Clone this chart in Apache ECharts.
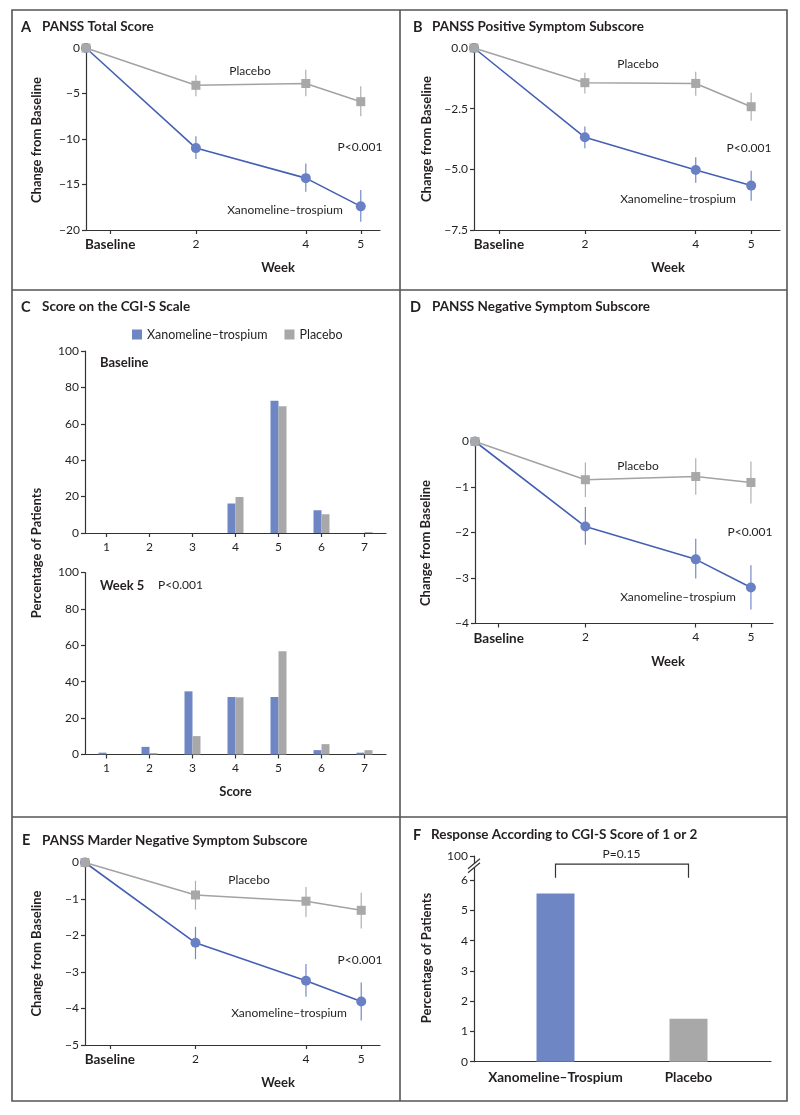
<!DOCTYPE html>
<html><head><meta charset="utf-8">
<script src="https://cdn.jsdelivr.net/npm/echarts@6/dist/echarts.min.js"></script>
<style>html,body{margin:0;padding:0;background:#fff}#c{width:800px;height:1115px}</style>
</head><body><div id="c"></div>
<script>
// ---------- data ----------
const weeks = [0, 2, 4, 5];
const weekTickLabels = ['Baseline', '2', '4', '5'];

// A: PANSS total
const aPboMean = [0, -4.1, -3.9, -5.9];
const aPboLo   = [0, -5.3, -5.3, -7.5];
const aPboHi   = [0, -3.0, -2.4, -4.2];
const aXtMean  = [0, -11.0, -14.3, -17.4];
const aXtLo    = [0, -12.2, -15.8, -19.1];
const aXtHi    = [0, -9.7, -12.7, -15.6];
// B: positive subscore
const bPboMean = [0, -1.43, -1.46, -2.42];
const bPboLo   = [0, -1.87, -1.97, -3.0];
const bPboHi   = [0, -1.02, -0.98, -1.84];
const bXtMean  = [0, -3.68, -5.03, -5.67];
const bXtLo    = [0, -4.13, -5.55, -6.29];
const bXtHi    = [0, -3.24, -4.5, -5.06];
// D: negative subscore
const dPboMean = [0, -0.84, -0.77, -0.90];
const dPboLo   = [0, -1.22, -1.17, -1.36];
const dPboHi   = [0, -0.46, -0.37, -0.44];
const dXtMean  = [0, -1.87, -2.59, -3.21];
const dXtLo    = [0, -2.27, -3.01, -3.69];
const dXtHi    = [0, -1.44, -2.14, -2.72];
// E: Marder negative
const ePboMean = [0, -0.89, -1.06, -1.31];
const ePboLo   = [0, -1.29, -1.49, -1.81];
const ePboHi   = [0, -0.50, -0.67, -0.83];
const eXtMean  = [0, -2.20, -3.24, -3.81];
const eXtLo    = [0, -2.65, -3.68, -4.33];
const eXtHi    = [0, -1.76, -2.78, -3.29];
// C: CGI-S distribution
const scoreCats = ['1', '2', '3', '4', '5', '6', '7'];
const cgiBaseXt  = [0, 0, 0, 16.2, 72.6, 12.5, 0];
const cgiBasePbo = [0, 0, 0, 19.8, 69.7, 10.3, 0.5];
const cgiW5Xt    = [1.0, 4.2, 34.7, 31.6, 31.6, 2.4, 1.0];
const cgiW5Pbo   = [0, 0.8, 10.1, 31.4, 56.7, 5.7, 2.4];
// F: response
const respCats = ['Xanomeline\u2013Trospium', 'Placebo'];
const respVals = [5.56, 1.42];
const respTicks = [0, 1, 2, 3, 4, 5, 6];

// ---------- style ----------
const FONT = 'Lato';
const TXT = '#231f20';
const AX = '#333';
const BLUE_LINE = '#4560b3', BLUE_MK = '#6a80c4', BLUE_ERR = '#7489c9', BLUE_BAR = '#6f86c4';
const GRAY_LINE = '#a3a3a3', GRAY_MK = '#a8a8a8', GRAY_ERR = '#b0b0b0', GRAY_BAR = '#a8a8a8';
const XT = 'Xanomeline\u2013trospium';
const minus = s => String(s).replace('-', '\u2212');

const chart = echarts.init(document.getElementById('c'), null, {renderer: 'canvas'});

const grids = [
  {left: 86, top: 48, width: 294, height: 182},      // 0 A
  {left: 474, top: 48, width: 306, height: 182},     // 1 B
  {left: 85, top: 351, width: 301, height: 182},     // 2 C top
  {left: 85, top: 572.5, width: 301, height: 182},   // 3 C bottom
  {left: 475, top: 441.5, width: 298, height: 182},  // 4 D
  {left: 85, top: 862.5, width: 295, height: 182.5}, // 5 E
  {left: 489, top: 856, width: 266, height: 205.7},  // 6 F inner
  {left: 474, top: 856, width: 297, height: 205.7}   // 7 F outer
];

const axLine = {show: true, onZero: false, lineStyle: {color: AX, width: 1.2}};
const axTick = {show: true, length: 4, lineStyle: {color: AX, width: 1.2}};
const lbl = {color: TXT, fontFamily: FONT, fontSize: 12};

function weekX(gi, max, baseTick) {
  const vals = [baseTick, 2, 4, 5];
  return {
    type: 'value', gridIndex: gi, min: 0, max: max,
    axisLine: axLine,
    axisTick: Object.assign({customValues: vals}, axTick),
    axisLabel: Object.assign({}, lbl, {
      customValues: vals, margin: 8,
      formatter: v => { const i = vals.indexOf(v); const t = weekTickLabels[i]; return i === 0 ? '{b|' + t + '}' : t; },
      rich: {b: {fontWeight: 'bold', fontFamily: FONT, fontSize: 13.5, color: TXT}}
    }),
    splitLine: {show: false}
  };
}
function chgY(gi, min, interval, dec) {
  return {
    type: 'value', gridIndex: gi, min: min, max: 0, interval: interval,
    axisLine: axLine, axisTick: axTick,
    axisLabel: Object.assign({}, lbl, {margin: 6, formatter: v => minus(dec ? v.toFixed(dec) : v)}),
    splitLine: {show: false}
  };
}

const xAxes = [
  weekX(0, 5.35, 0.44),
  weekX(1, 5.52, 0.45),
  {type: 'category', gridIndex: 2, data: scoreCats, axisLine: axLine, axisTick: Object.assign({alignWithLabel: true}, axTick), axisLabel: Object.assign({}, lbl, {margin: 8})},
  {type: 'category', gridIndex: 3, data: scoreCats, axisLine: axLine, axisTick: Object.assign({alignWithLabel: true}, axTick), axisLabel: Object.assign({}, lbl, {margin: 8}),
    name: 'Score', nameLocation: 'middle', nameGap: 31, nameTextStyle: {fontFamily: FONT, fontSize: 13, fontWeight: 'bold', color: TXT}},
  weekX(4, 5.40, 0.43),
  weekX(5, 5.34, 0.45),
  {type: 'category', gridIndex: 6, data: respCats, axisLine: {show: false}, axisTick: {show: false},
    axisLabel: Object.assign({}, lbl, {margin: 9, fontWeight: 'bold', fontSize: 13.5, interval: 0, hideOverlap: false})},
  {type: 'value', gridIndex: 7, min: 0, max: 1, axisLine: axLine, axisTick: {show: false}, axisLabel: {show: false}, splitLine: {show: false}}
];
const pctY = gi => ({type: 'value', gridIndex: gi, min: 0, max: 100, interval: 20, axisLine: axLine, axisTick: axTick,
  axisLabel: Object.assign({}, lbl, {margin: 6}), splitLine: {show: false}});
const yAxes = [
  chgY(0, -20, 5, 0),
  chgY(1, -7.5, 2.5, 1),
  pctY(2),
  pctY(3),
  chgY(4, -4, 1, 0),
  chgY(5, -5, 1, 0),
  {type: 'value', gridIndex: 6, min: 0, max: 6.8, offset: 15, axisLine: axLine,
    axisTick: Object.assign({customValues: respTicks.concat([6.8])}, axTick),
    axisLabel: Object.assign({}, lbl, {margin: 6, customValues: respTicks.concat([6.8]), formatter: v => v > 6.5 ? '100' : String(v)}),
    splitLine: {show: false}},
  {type: 'value', gridIndex: 7, min: 0, max: 1, show: false}
];

function errSeries(ai, lo, hi, color, z) {
  return {
    type: 'custom', xAxisIndex: ai, yAxisIndex: ai, z: z, silent: true,
    data: weeks.map((w, i) => [w, lo[i], hi[i]]).filter((d, i) => i > 0),
    renderItem: (params, api) => {
      const a = api.coord([api.value(0), api.value(1)]);
      const b = api.coord([api.value(0), api.value(2)]);
      return {type: 'line', shape: {x1: a[0], y1: a[1], x2: b[0], y2: b[1]}, style: {stroke: color, lineWidth: 1.2}};
    }
  };
}
function lineSeries(ai, name, vals, isPbo) {
  return {
    type: 'line', name: name, xAxisIndex: ai, yAxisIndex: ai, z: isPbo ? 4 : 3,
    data: weeks.map((w, i) => [w, vals[i]]),
    symbol: isPbo ? 'rect' : 'circle', symbolSize: isPbo ? 9 : 10,
    showSymbol: true,
    lineStyle: {color: isPbo ? GRAY_LINE : BLUE_LINE, width: 1.6},
    itemStyle: {color: isPbo ? GRAY_MK : BLUE_MK, borderWidth: 0},
    emphasis: {disabled: true}
  };
}
function panel(ai, pm, pl, ph, xm, xl, xh) {
  return [
    errSeries(ai, xl, xh, BLUE_ERR, 2),
    errSeries(ai, pl, ph, GRAY_ERR, 2),
    lineSeries(ai, XT + ' ' + ai, xm, false),
    lineSeries(ai, 'Placebo ' + ai, pm, true)
  ];
}
function barPair(ai, xt, pbo) {
  return [
    {type: 'bar', name: XT, xAxisIndex: ai, yAxisIndex: ai, data: xt, barWidth: 8, barGap: '0%', itemStyle: {color: BLUE_BAR}},
    {type: 'bar', name: 'Placebo', xAxisIndex: ai, yAxisIndex: ai, data: pbo, barWidth: 8, barGap: '0%', itemStyle: {color: GRAY_BAR}}
  ];
}

const series = [].concat(
  panel(0, aPboMean, aPboLo, aPboHi, aXtMean, aXtLo, aXtHi),
  panel(1, bPboMean, bPboLo, bPboHi, bXtMean, bXtLo, bXtHi),
  barPair(2, cgiBaseXt, cgiBasePbo),
  barPair(3, cgiW5Xt, cgiW5Pbo),
  panel(4, dPboMean, dPboLo, dPboHi, dXtMean, dXtLo, dXtHi),
  panel(5, ePboMean, ePboLo, ePboHi, eXtMean, eXtLo, eXtHi),
  [{type: 'bar', xAxisIndex: 6, yAxisIndex: 6, barWidth: 38,
    data: respVals.map((v, i) => ({value: v, itemStyle: {color: i === 0 ? BLUE_BAR : GRAY_BAR}}))}]
);

// ---------- text / frame graphics ----------
function T(x, y, text, o) {
  o = o || {};
  return {type: 'text', x: x, y: y, rotation: o.rot || 0, z: 50, silent: true,
    style: {text: text, fill: TXT, font: (o.bold ? 'bold ' : '') + (o.size || 12) + 'px ' + FONT,
      align: o.align || 'center', verticalAlign: 'middle'}};
}
const R = Math.PI / 2;
const frameStyle = {stroke: '#555', lineWidth: 1.6};
const TS = 13.5, LS = 14.5;
const g = [
  {type: 'rect', shape: {x: 12, y: 10, width: 775, height: 1091}, style: {fill: null, stroke: '#555', lineWidth: 1.6}, z: 40, silent: true},
  {type: 'line', shape: {x1: 400, y1: 10, x2: 400, y2: 1101}, style: frameStyle, z: 40, silent: true},
  {type: 'line', shape: {x1: 12, y1: 290, x2: 787, y2: 290}, style: frameStyle, z: 40, silent: true},
  {type: 'line', shape: {x1: 12, y1: 817, x2: 787, y2: 817}, style: frameStyle, z: 40, silent: true},
  // titles
  T(21, 27, 'A', {bold: true, size: LS, align: 'left'}), T(42, 27, 'PANSS Total Score', {bold: true, size: TS, align: 'left'}),
  T(413, 27, 'B', {bold: true, size: LS, align: 'left'}), T(432, 27, 'PANSS Positive Symptom Subscore', {bold: true, size: TS, align: 'left'}),
  T(21, 307, 'C', {bold: true, size: LS, align: 'left'}), T(42, 307, 'Score on the CGI-S Scale', {bold: true, size: TS, align: 'left'}),
  T(410, 307, 'D', {bold: true, size: LS, align: 'left'}), T(432, 307, 'PANSS Negative Symptom Subscore', {bold: true, size: TS, align: 'left'}),
  T(22, 840.5, 'E', {bold: true, size: LS, align: 'left'}), T(42, 840.5, 'PANSS Marder Negative Symptom Subscore', {bold: true, size: TS, align: 'left'}),
  T(413, 835, 'F', {bold: true, size: LS, align: 'left'}), T(431, 835, 'Response According to CGI-S Score of 1 or 2', {bold: true, size: TS, align: 'left'}),
  // y-axis names
  T(37, 140, 'Change from Baseline', {bold: true, size: 13, rot: R}),
  T(427, 139, 'Change from Baseline', {bold: true, size: 13, rot: R}),
  T(37, 553, 'Percentage of Patients', {bold: true, size: 13, rot: R}),
  T(426, 543, 'Change from Baseline', {bold: true, size: 13, rot: R}),
  T(37, 953.5, 'Change from Baseline', {bold: true, size: 13, rot: R}),
  T(427, 958, 'Percentage of Patients', {bold: true, size: 13, rot: R}),
  // x names "Week"
  T(278, 268, 'Week', {bold: true, size: 13}),
  T(668, 268, 'Week', {bold: true, size: 13}),
  T(668, 662, 'Week', {bold: true, size: 13}),
  T(278, 1083, 'Week', {bold: true, size: 13}),
  // annotations A
  T(250, 71, 'Placebo'), T(360, 147, 'P<0.001'), T(285, 210, XT),
  // B
  T(638, 64, 'Placebo'), T(749, 148, 'P<0.001'), T(678, 199, XT),
  // D
  T(638, 466, 'Placebo'), T(750, 532, 'P<0.001'), T(678, 597, XT),
  // E
  T(249, 880, 'Placebo'), T(360, 960, 'P<0.001'), T(289, 1013, XT),
  // C
  T(100, 363, 'Baseline', {bold: true, size: 13, align: 'left'}),
  T(100, 585.5, 'Week 5', {bold: true, size: 13, align: 'left'}),
  T(158, 585.5, 'P<0.001', {align: 'left'}),
  // F
  T(621.5, 854, 'P=0.15')
];

chart.setOption({
  animation: false,
  textStyle: {fontFamily: FONT},
  legend: {left: 127, top: 323, itemWidth: 10, itemHeight: 10, itemGap: 17, icon: 'rect',
    textStyle: {fontFamily: FONT, fontSize: 12.5, color: TXT},
    data: [{name: XT, itemStyle: {color: BLUE_BAR}}, {name: 'Placebo', itemStyle: {color: GRAY_BAR}}],
    selectedMode: false},
  grid: grids,
  xAxis: xAxes,
  yAxis: yAxes,
  series: series,
  graphic: g
});

// bracket & axis break for panel F, placed via the library's scales
const fq = {xAxisIndex: 6, yAxisIndex: 6};
const p0 = chart.convertToPixel(fq, [0, 6.53]);
const p1 = chart.convertToPixel(fq, [1, 6.53]);
const pb = chart.convertToPixel(fq, [0, 6.08]);
const brk = chart.convertToPixel(fq, [0, 6.48]);
const ax = 474;
g.push(
  {type: 'polyline', z: 50, shape: {points: [[p0[0], pb[1]], [p0[0], p0[1]], [p1[0], p1[1]], [p1[0], pb[1]]]}, style: {stroke: '#333', lineWidth: 1.2, fill: null}},
  {type: 'rect', z: 60, shape: {x: ax - 3, y: brk[1] - 2, width: 6, height: 4}, style: {fill: '#fff'}},
  {type: 'line', z: 61, shape: {x1: ax - 6, y1: brk[1] + 3, x2: ax + 6, y2: brk[1] - 7}, style: {stroke: '#333', lineWidth: 1.2}},
  {type: 'line', z: 61, shape: {x1: ax - 6, y1: brk[1] + 7, x2: ax + 6, y2: brk[1] - 3}, style: {stroke: '#333', lineWidth: 1.2}}
);
chart.setOption({graphic: g});
</script></body></html>
